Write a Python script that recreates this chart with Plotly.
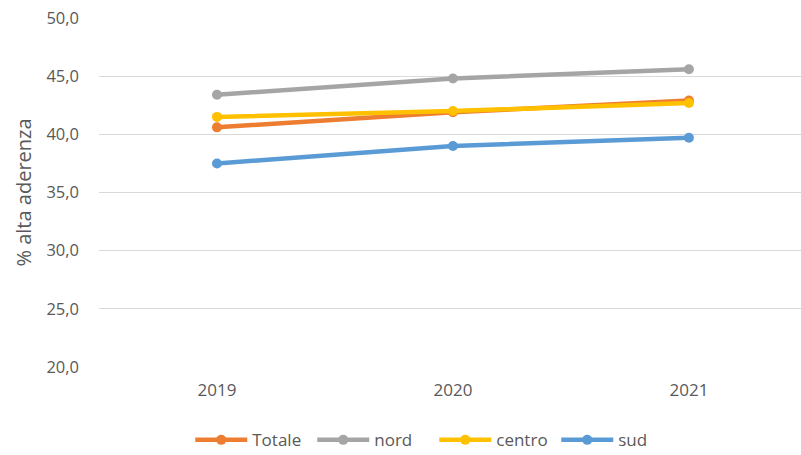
import plotly.graph_objects as go

years = ["2019", "2020", "2021"]
totale = [40.6, 41.9, 42.9]
nord = [43.4, 44.8, 45.6]
centro = [41.5, 42.0, 42.7]
sud = [37.5, 39.0, 39.7]

series = [
    ("Totale", totale, "#ED7D31"),
    ("nord", nord, "#A5A5A5"),
    ("centro", centro, "#FFC000"),
    ("sud", sud, "#5B9BD5"),
]

fig = go.Figure()
for name, vals, col in series:
    fig.add_trace(go.Scatter(
        x=years, y=vals, name=name, mode="lines+markers",
        line=dict(color=col, width=4.5),
        marker=dict(color=col, size=10),
    ))

fig.update_layout(
    width=801, height=455,
    margin=dict(l=99, r=0, t=18, b=88, autoexpand=False),
    paper_bgcolor="white", plot_bgcolor="white",
    font=dict(family="Open Sans, Arial, sans-serif", size=13, color="#595959"),
    showlegend=True,
    legend=dict(orientation="h", x=0.13, xanchor="left", y=-0.21, yanchor="middle",
                font=dict(size=17, color="#595959"), itemwidth=52, tracegroupgap=0,
                entrywidth=55, entrywidthmode="pixels"),
    separators=",.",
)
fig.update_xaxes(type="category", range=[-0.5, 2.475], showgrid=False, automargin=False,
                 showline=False, zeroline=False, ticks="", ticklabelstandoff=11,
                 tickfont=dict(size=17, color="#595959"))
fig.update_yaxes(range=[20, 50], dtick=5, tickformat=".1f", automargin=False,
                 showgrid=True, gridcolor="#D9D9D9", gridwidth=1, zeroline=False,
                 showline=False, ticks="", ticklabelstandoff=19,
                 tickfont=dict(size=16.5, color="#595959"))
fig.update_yaxes(title_text="% alta aderenza", title_standoff=9,
                 title_font=dict(size=20, color="#595959"))
fig.write_html("out.html", config={"displayModeBar": False},
               post_script="document.body.style.margin='0';")
